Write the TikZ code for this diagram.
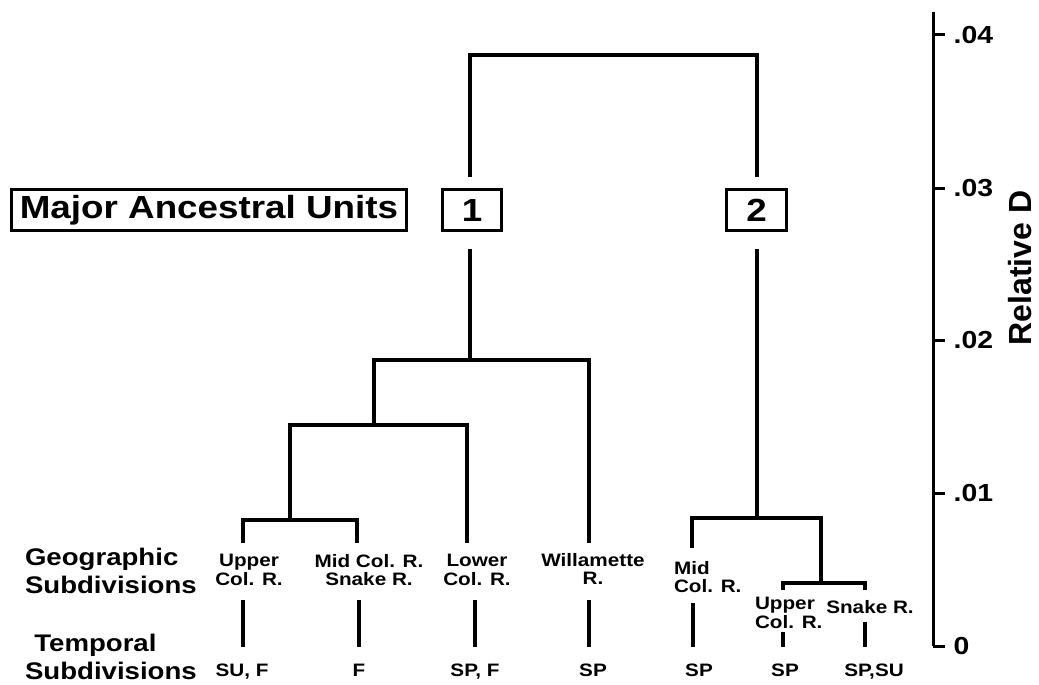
\documentclass[tikz,border=0pt]{standalone}
\usepackage{fontspec}
\setmainfont{Liberation Sans}[FakeStretch=1.15]
\newfontfamily\axisfont{Liberation Sans}
\usetikzlibrary{positioning}

\begin{document}
\begin{tikzpicture}[x=0.75pt,y=-0.75pt,line width=3pt,
  unitbox/.style={draw,line width=2.25pt,inner sep=0pt,minimum height=30.75pt,font=\bfseries\fontsize{24}{24}\selectfont},
  headlab/.style={font=\bfseries\fontsize{18}{21.5}\selectfont,align=left,inner sep=0pt,anchor=west},
  geolab/.style={font=\bfseries\fontsize{13.5}{14}\selectfont,align=center,inner sep=0pt},
  timelab/.style={font=\bfseries\fontsize{13.5}{14}\selectfont,inner sep=0pt,anchor=base},
  axisline/.style={line width=2.25pt},
  ticklab/.style={font=\bfseries\fontsize{18.5}{19}\selectfont,inner sep=0pt,anchor=west}]
 \useasboundingbox (0,0) rectangle (1039,685);

 % boxes
 \node[unitbox,minimum width=296pt] (major) at (209,210) {Major Ancestral Units};
 \node[unitbox,minimum width=44.25pt] (unit1) at (472,210) {1};
 \node[unitbox,minimum width=45pt] (unit2) at (756.5,210) {2};

 % row headings
 \node[headlab] (geohead) at (23,571) {Geographic\\Subdivisions};
 \node[headlab] (timehead) at (23,657) {\hspace*{7pt}Temporal\\Subdivisions};

 % geographic subdivisions
 \node[geolab] (geoUC) at (249,570) {Upper\\Col. R.};
 \node[geolab] (geoMS) at (369,570) {Mid Col. R.\\Snake R.};
 \node[geolab] (geoLC) at (477,570) {Lower\\Col. R.};
 \node[geolab] (geoWR) at (593,569) {Willamette\\R.};
 \node[geolab,align=left,anchor=west] (geoMC) at (672,577) {Mid\\Col. R.};
 \node[geolab,align=left,anchor=west] (geoUU) at (753,613) {Upper\\Col. R.};
 \node[geolab] (geoSR) at (870,607) {Snake R.};

 % temporal subdivisions
 \node[timelab] (tmUC) at (242,676) {SU, F};
 \node[timelab] (tmMS) at (359,676) {F};
 \node[timelab] (tmLC) at (475,676) {SP, F};
 \node[timelab] (tmWR) at (593,676) {SP};
 \node[timelab] (tmMC) at (699,676) {SP};
 \node[timelab] (tmUU) at (785,676) {SP};
 \node[timelab] (tmSR) at (874,676) {SP,SU};

 % tree joints
 \coordinate (root) at (613,55);
 \coordinate (j1a) at (470,177);
 \coordinate (j2a) at (757,177);
 \coordinate (j1b) at (470,249);
 \coordinate (j2b) at (757,249);
 \coordinate (c1) at (470,360);
 \coordinate (c11) at (374,425);
 \coordinate (c111) at (290,520);
 \coordinate (c2) at (757,518);
 \coordinate (c21) at (821,583);
 \coordinate (lUC) at (243,543);
 \coordinate (lMS) at (357,543);
 \coordinate (lLC) at (467,543);
 \coordinate (lWR) at (589,543);
 \coordinate (lMC) at (692,548);
 \coordinate (lUU) at (783,590);
 \coordinate (lSR) at (865,590);

 \draw (j1a) |- (root) -| (j2a);
 \draw (j1b) -- (c1);
 \draw (c11) |- (c1) -| (lWR);
 \draw (c111) |- (c11) -| (lLC);
 \draw (lUC) |- (c111) -| (lMS);
 \draw (j2b) -- (c2);
 \draw (lMC) |- (c2) -| (c21);
 \draw (lUU) |- (c21) -| (lSR);

 % links from place to season
 \foreach \n/\x/\t in {UC/243/600,MS/359/600,LC/475/600,WR/589/600,MC/693/603,UU/783/632,SR/865/622}{
   \coordinate (u\n) at (\x,\t);
   \coordinate (d\n) at (\x,647);
   \draw (u\n) -- (d\n);
 }

 % scale
 \coordinate (axtop) at (933,12);
 \coordinate (axbot) at (933,646);
 \draw[axisline] (axtop) -- (axbot);
 \foreach \v/\y in {0/646,.01/493,.02/340,.03/188,.04/35}{
   \coordinate (tk\y) at (945,\y);
   \draw[axisline] (933,\y) -- (tk\y);
   \node[ticklab,right=5pt of tk\y,anchor=west] {\v};
 }
 \node[rotate=90,inner sep=0pt,font=\axisfont\bfseries\fontsize{24}{24}\selectfont] (reld) at (1020,268) {Relative D};
\end{tikzpicture}
\end{document}
